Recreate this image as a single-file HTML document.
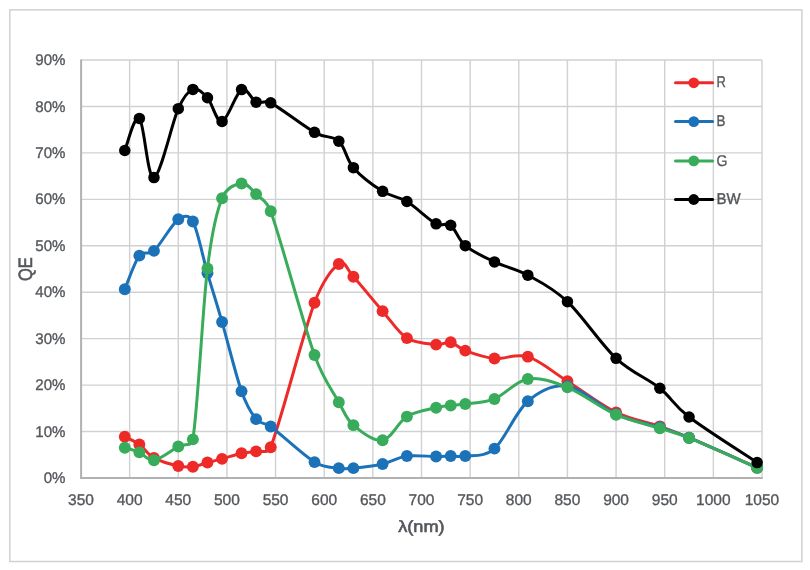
<!DOCTYPE html>
<html><head><meta charset="utf-8"><style>
html,body{margin:0;padding:0;background:#fff;}
body{width:810px;height:570px;overflow:hidden;}
svg{display:block;}
.t,.tl,.ti,.tq{font-family:"Liberation Sans",sans-serif;fill:#54575B;text-rendering:geometricPrecision;stroke:#54575B;stroke-width:0.35px;}
.t{font-size:15.50px;}
.tl{font-size:15.55px;}
.ti{font-size:16.30px;}
.tq{font-size:19.25px;}
.ti,.tq{stroke-width:0.6px;}
</style></head><body>
<div style="will-change:transform;width:810px;height:570px"><svg width="810" height="570" viewBox="0 0 810 570">
<rect x="0" y="0" width="810" height="570" fill="#fff"/>
<rect x="9.8" y="9.9" width="792.1" height="551.6" fill="none" stroke="#D0D1D3" stroke-width="1.5"/>
<line x1="81" y1="431.56" x2="762" y2="431.56" stroke="#D0D1D3" stroke-width="1.4"/>
<line x1="81" y1="385.11" x2="762" y2="385.11" stroke="#D0D1D3" stroke-width="1.4"/>
<line x1="81" y1="338.67" x2="762" y2="338.67" stroke="#D0D1D3" stroke-width="1.4"/>
<line x1="81" y1="292.22" x2="762" y2="292.22" stroke="#D0D1D3" stroke-width="1.4"/>
<line x1="81" y1="245.78" x2="762" y2="245.78" stroke="#D0D1D3" stroke-width="1.4"/>
<line x1="81" y1="199.33" x2="762" y2="199.33" stroke="#D0D1D3" stroke-width="1.4"/>
<line x1="81" y1="152.89" x2="762" y2="152.89" stroke="#D0D1D3" stroke-width="1.4"/>
<line x1="81" y1="106.44" x2="762" y2="106.44" stroke="#D0D1D3" stroke-width="1.4"/>
<line x1="81" y1="60.00" x2="762" y2="60.00" stroke="#D0D1D3" stroke-width="1.4"/>
<line x1="129.64" y1="60" x2="129.64" y2="478" stroke="#D0D1D3" stroke-width="1.4"/>
<line x1="178.29" y1="60" x2="178.29" y2="478" stroke="#D0D1D3" stroke-width="1.4"/>
<line x1="226.93" y1="60" x2="226.93" y2="478" stroke="#D0D1D3" stroke-width="1.4"/>
<line x1="275.57" y1="60" x2="275.57" y2="478" stroke="#D0D1D3" stroke-width="1.4"/>
<line x1="324.21" y1="60" x2="324.21" y2="478" stroke="#D0D1D3" stroke-width="1.4"/>
<line x1="372.86" y1="60" x2="372.86" y2="478" stroke="#D0D1D3" stroke-width="1.4"/>
<line x1="421.50" y1="60" x2="421.50" y2="478" stroke="#D0D1D3" stroke-width="1.4"/>
<line x1="470.14" y1="60" x2="470.14" y2="478" stroke="#D0D1D3" stroke-width="1.4"/>
<line x1="518.79" y1="60" x2="518.79" y2="478" stroke="#D0D1D3" stroke-width="1.4"/>
<line x1="567.43" y1="60" x2="567.43" y2="478" stroke="#D0D1D3" stroke-width="1.4"/>
<line x1="616.07" y1="60" x2="616.07" y2="478" stroke="#D0D1D3" stroke-width="1.4"/>
<line x1="664.71" y1="60" x2="664.71" y2="478" stroke="#D0D1D3" stroke-width="1.4"/>
<line x1="713.36" y1="60" x2="713.36" y2="478" stroke="#D0D1D3" stroke-width="1.4"/>
<line x1="762.00" y1="60" x2="762.00" y2="478" stroke="#D0D1D3" stroke-width="1.4"/>
<line x1="81.1" y1="59.4" x2="81.1" y2="479" stroke="#B0B1B3" stroke-width="2"/>
<line x1="80.1" y1="478" x2="762.7" y2="478" stroke="#B0B1B3" stroke-width="2"/>
<text x="65.45" y="483.15" text-anchor="end" class="t" textLength="21.77" lengthAdjust="spacingAndGlyphs">0%</text>
<text x="65.45" y="436.71" text-anchor="end" class="t" textLength="30.15" lengthAdjust="spacingAndGlyphs">10%</text>
<text x="65.45" y="390.26" text-anchor="end" class="t" textLength="30.15" lengthAdjust="spacingAndGlyphs">20%</text>
<text x="65.45" y="343.82" text-anchor="end" class="t" textLength="30.15" lengthAdjust="spacingAndGlyphs">30%</text>
<text x="65.45" y="297.37" text-anchor="end" class="t" textLength="30.15" lengthAdjust="spacingAndGlyphs">40%</text>
<text x="65.45" y="250.93" text-anchor="end" class="t" textLength="30.15" lengthAdjust="spacingAndGlyphs">50%</text>
<text x="65.45" y="204.48" text-anchor="end" class="t" textLength="30.15" lengthAdjust="spacingAndGlyphs">60%</text>
<text x="65.45" y="158.04" text-anchor="end" class="t" textLength="30.15" lengthAdjust="spacingAndGlyphs">70%</text>
<text x="65.45" y="111.59" text-anchor="end" class="t" textLength="30.15" lengthAdjust="spacingAndGlyphs">80%</text>
<text x="65.45" y="65.15" text-anchor="end" class="t" textLength="30.15" lengthAdjust="spacingAndGlyphs">90%</text>
<text x="81.00" y="504.50" text-anchor="middle" class="t">350</text>
<text x="129.64" y="504.50" text-anchor="middle" class="t">400</text>
<text x="178.29" y="504.50" text-anchor="middle" class="t">450</text>
<text x="226.93" y="504.50" text-anchor="middle" class="t">500</text>
<text x="275.57" y="504.50" text-anchor="middle" class="t">550</text>
<text x="324.21" y="504.50" text-anchor="middle" class="t">600</text>
<text x="372.86" y="504.50" text-anchor="middle" class="t">650</text>
<text x="421.50" y="504.50" text-anchor="middle" class="t">700</text>
<text x="470.14" y="504.50" text-anchor="middle" class="t">750</text>
<text x="518.79" y="504.50" text-anchor="middle" class="t">800</text>
<text x="567.43" y="504.50" text-anchor="middle" class="t">850</text>
<text x="616.07" y="504.50" text-anchor="middle" class="t">900</text>
<text x="664.71" y="504.50" text-anchor="middle" class="t">950</text>
<text x="713.36" y="504.50" text-anchor="middle" class="t">1000</text>
<text x="762.00" y="504.50" text-anchor="middle" class="t">1050</text>
<text x="421.40" y="532.20" text-anchor="middle" class="ti" textLength="46.40" lengthAdjust="spacingAndGlyphs">&#955;(nm)</text>
<text transform="translate(32.10,269.10) rotate(-90)" text-anchor="middle" class="tq" textLength="23.80" lengthAdjust="spacingAndGlyphs">QE</text>
<path d="M124.78,436.78 C127.21,438.06 134.51,440.92 139.37,444.45 C144.24,447.97 147.48,454.32 153.96,457.91 C160.45,461.51 171.80,464.57 178.29,466.04 C184.77,467.51 188.01,467.32 192.88,466.74 C197.74,466.16 202.61,463.87 207.47,462.56 C212.34,461.24 216.39,460.39 222.06,458.84 C227.74,457.30 235.85,454.51 241.52,453.27 C247.20,452.03 251.25,452.42 256.11,451.41 C260.98,450.41 267.93,454.30 270.71,447.23 C280.44,422.46 303.14,333.33 314.49,302.79 C322.46,281.34 332.32,268.34 338.81,264.01 C345.29,259.67 346.80,269.68 353.40,276.78 C360.70,284.64 373.67,300.93 382.59,311.15 C391.50,321.37 397.99,332.51 406.91,338.09 C415.82,343.66 428.80,343.89 436.09,344.59 C443.39,345.29 445.82,341.26 450.69,342.27 C455.55,343.27 457.98,347.92 465.28,350.63 C472.57,353.34 484.04,357.52 494.46,358.52 C504.89,359.53 515.67,352.87 527.83,356.67 C539.99,360.46 552.72,371.99 567.43,381.28 C582.13,390.57 600.67,404.89 616.07,412.40 C631.48,419.91 647.69,422.11 659.85,426.33 C672.01,430.55 674.62,431.59 689.04,437.71 C705.25,444.60 745.79,462.68 757.14,467.67" fill="none" stroke="#EE2A29" stroke-width="3.0" stroke-linejoin="round" stroke-linecap="round"/>
<circle cx="124.78" cy="436.78" r="5.95" fill="#EE2A29"/>
<circle cx="139.37" cy="444.45" r="5.95" fill="#EE2A29"/>
<circle cx="153.96" cy="457.91" r="5.95" fill="#EE2A29"/>
<circle cx="178.29" cy="466.04" r="5.95" fill="#EE2A29"/>
<circle cx="192.88" cy="466.74" r="5.95" fill="#EE2A29"/>
<circle cx="207.47" cy="462.56" r="5.95" fill="#EE2A29"/>
<circle cx="222.06" cy="458.84" r="5.95" fill="#EE2A29"/>
<circle cx="241.52" cy="453.27" r="5.95" fill="#EE2A29"/>
<circle cx="256.11" cy="451.41" r="5.95" fill="#EE2A29"/>
<circle cx="270.71" cy="447.23" r="5.95" fill="#EE2A29"/>
<circle cx="314.49" cy="302.79" r="5.95" fill="#EE2A29"/>
<circle cx="338.81" cy="264.01" r="5.95" fill="#EE2A29"/>
<circle cx="353.40" cy="276.78" r="5.95" fill="#EE2A29"/>
<circle cx="382.59" cy="311.15" r="5.95" fill="#EE2A29"/>
<circle cx="406.91" cy="338.09" r="5.95" fill="#EE2A29"/>
<circle cx="436.09" cy="344.59" r="5.95" fill="#EE2A29"/>
<circle cx="450.69" cy="342.27" r="5.95" fill="#EE2A29"/>
<circle cx="465.28" cy="350.63" r="5.95" fill="#EE2A29"/>
<circle cx="494.46" cy="358.52" r="5.95" fill="#EE2A29"/>
<circle cx="527.83" cy="356.67" r="5.95" fill="#EE2A29"/>
<circle cx="567.43" cy="381.28" r="5.95" fill="#EE2A29"/>
<circle cx="616.07" cy="412.40" r="5.95" fill="#EE2A29"/>
<circle cx="659.85" cy="426.33" r="5.95" fill="#EE2A29"/>
<circle cx="689.04" cy="437.71" r="5.95" fill="#EE2A29"/>
<circle cx="757.14" cy="467.67" r="5.95" fill="#EE2A29"/>
<path d="M124.78,289.32 C127.21,283.71 134.51,262.05 139.37,255.65 C144.01,249.54 148.37,256.16 153.96,250.91 C160.45,244.84 171.80,224.09 178.29,219.19 C184.18,214.74 189.36,215.02 192.88,221.51 C197.74,230.49 202.61,256.31 207.47,273.07 C212.34,289.82 216.39,302.36 222.06,322.06 C227.74,341.76 235.85,375.09 241.52,391.27 C246.73,406.11 251.25,413.25 256.11,419.13 C260.98,425.02 264.11,421.71 270.71,426.56 C280.44,433.72 303.14,455.17 314.49,462.09 C325.18,468.62 332.32,467.13 338.81,468.13 C345.29,469.14 346.14,468.83 353.40,468.13 C360.70,467.44 373.67,465.96 382.59,463.95 C391.50,461.94 397.99,457.30 406.91,456.06 C415.82,454.82 428.80,456.52 436.09,456.52 C443.39,456.52 445.82,456.13 450.69,456.06 C455.55,455.98 458.09,457.28 465.28,456.06 C472.57,454.82 484.04,457.76 494.46,448.63 C504.89,439.49 515.67,411.66 527.83,401.25 C539.99,390.84 552.72,383.99 567.43,386.16 C582.13,388.33 600.67,407.41 616.07,414.26 C631.48,421.11 647.69,423.35 659.85,427.26 C672.01,431.17 674.72,431.77 689.04,437.71 C705.25,444.45 745.79,462.68 757.14,467.67" fill="none" stroke="#1B72B8" stroke-width="3.0" stroke-linejoin="round" stroke-linecap="round"/>
<circle cx="124.78" cy="289.32" r="5.95" fill="#1B72B8"/>
<circle cx="139.37" cy="255.65" r="5.95" fill="#1B72B8"/>
<circle cx="153.96" cy="250.91" r="5.95" fill="#1B72B8"/>
<circle cx="178.29" cy="219.19" r="5.95" fill="#1B72B8"/>
<circle cx="192.88" cy="221.51" r="5.95" fill="#1B72B8"/>
<circle cx="207.47" cy="273.07" r="5.95" fill="#1B72B8"/>
<circle cx="222.06" cy="322.06" r="5.95" fill="#1B72B8"/>
<circle cx="241.52" cy="391.27" r="5.95" fill="#1B72B8"/>
<circle cx="256.11" cy="419.13" r="5.95" fill="#1B72B8"/>
<circle cx="270.71" cy="426.56" r="5.95" fill="#1B72B8"/>
<circle cx="314.49" cy="462.09" r="5.95" fill="#1B72B8"/>
<circle cx="338.81" cy="468.13" r="5.95" fill="#1B72B8"/>
<circle cx="353.40" cy="468.13" r="5.95" fill="#1B72B8"/>
<circle cx="382.59" cy="463.95" r="5.95" fill="#1B72B8"/>
<circle cx="406.91" cy="456.06" r="5.95" fill="#1B72B8"/>
<circle cx="436.09" cy="456.52" r="5.95" fill="#1B72B8"/>
<circle cx="450.69" cy="456.06" r="5.95" fill="#1B72B8"/>
<circle cx="465.28" cy="456.06" r="5.95" fill="#1B72B8"/>
<circle cx="494.46" cy="448.63" r="5.95" fill="#1B72B8"/>
<circle cx="527.83" cy="401.25" r="5.95" fill="#1B72B8"/>
<circle cx="567.43" cy="386.16" r="5.95" fill="#1B72B8"/>
<circle cx="616.07" cy="414.26" r="5.95" fill="#1B72B8"/>
<circle cx="659.85" cy="427.26" r="5.95" fill="#1B72B8"/>
<circle cx="689.04" cy="437.71" r="5.95" fill="#1B72B8"/>
<circle cx="757.14" cy="467.67" r="5.95" fill="#1B72B8"/>
<path d="M124.78,447.70 C127.21,448.47 134.51,450.25 139.37,452.34 C144.24,454.43 147.48,461.20 153.96,460.24 C160.45,459.27 171.80,450.02 178.29,446.54 C184.77,443.05 191.56,447.37 192.88,439.34 C197.74,409.65 202.61,308.60 207.47,268.42 C211.78,232.86 216.39,212.46 222.06,198.29 C226.62,186.93 235.85,184.12 241.52,183.43 C247.20,182.73 251.25,189.47 256.11,194.11 C260.98,198.75 266.86,200.70 270.71,211.29 C280.44,238.12 303.14,323.23 314.49,355.04 C323.40,380.02 332.32,390.49 338.81,402.18 C345.29,413.87 346.10,418.82 353.40,425.17 C360.70,431.52 373.67,441.70 382.59,440.27 C391.50,438.83 397.99,422.00 406.91,416.58 C415.82,411.16 428.80,409.61 436.09,407.75 C443.25,405.93 445.82,406.05 450.69,405.43 C455.55,404.81 458.03,405.12 465.28,404.04 C472.57,402.96 484.04,403.11 494.46,398.93 C504.89,394.75 515.67,380.89 527.83,378.96 C539.99,377.02 552.72,381.36 567.43,387.32 C582.13,393.28 600.67,407.91 616.07,414.72 C631.48,421.53 647.69,424.32 659.85,428.19 C672.01,432.06 674.78,432.16 689.04,437.94 C705.25,444.52 745.79,462.71 757.14,467.67" fill="none" stroke="#38AC5A" stroke-width="3.0" stroke-linejoin="round" stroke-linecap="round"/>
<circle cx="124.78" cy="447.70" r="5.95" fill="#38AC5A"/>
<circle cx="139.37" cy="452.34" r="5.95" fill="#38AC5A"/>
<circle cx="153.96" cy="460.24" r="5.95" fill="#38AC5A"/>
<circle cx="178.29" cy="446.54" r="5.95" fill="#38AC5A"/>
<circle cx="192.88" cy="439.34" r="5.95" fill="#38AC5A"/>
<circle cx="207.47" cy="268.42" r="5.95" fill="#38AC5A"/>
<circle cx="222.06" cy="198.29" r="5.95" fill="#38AC5A"/>
<circle cx="241.52" cy="183.43" r="5.95" fill="#38AC5A"/>
<circle cx="256.11" cy="194.11" r="5.95" fill="#38AC5A"/>
<circle cx="270.71" cy="211.29" r="5.95" fill="#38AC5A"/>
<circle cx="314.49" cy="355.04" r="5.95" fill="#38AC5A"/>
<circle cx="338.81" cy="402.18" r="5.95" fill="#38AC5A"/>
<circle cx="353.40" cy="425.17" r="5.95" fill="#38AC5A"/>
<circle cx="382.59" cy="440.27" r="5.95" fill="#38AC5A"/>
<circle cx="406.91" cy="416.58" r="5.95" fill="#38AC5A"/>
<circle cx="436.09" cy="407.75" r="5.95" fill="#38AC5A"/>
<circle cx="450.69" cy="405.43" r="5.95" fill="#38AC5A"/>
<circle cx="465.28" cy="404.04" r="5.95" fill="#38AC5A"/>
<circle cx="494.46" cy="398.93" r="5.95" fill="#38AC5A"/>
<circle cx="527.83" cy="378.96" r="5.95" fill="#38AC5A"/>
<circle cx="567.43" cy="387.32" r="5.95" fill="#38AC5A"/>
<circle cx="616.07" cy="414.72" r="5.95" fill="#38AC5A"/>
<circle cx="659.85" cy="428.19" r="5.95" fill="#38AC5A"/>
<circle cx="689.04" cy="437.94" r="5.95" fill="#38AC5A"/>
<circle cx="757.14" cy="467.67" r="5.95" fill="#38AC5A"/>
<path d="M124.78,150.45 C127.21,145.11 134.51,113.88 139.37,118.41 C144.24,122.93 147.48,179.25 153.96,177.62 C160.45,176.00 171.80,123.36 178.29,108.65 C183.16,97.59 188.01,91.20 192.88,89.38 C197.74,87.56 202.61,92.40 207.47,97.74 C212.34,103.08 216.39,122.78 222.06,121.42 C227.74,120.07 235.85,92.82 241.52,89.61 C247.20,86.40 251.25,99.94 256.11,102.15 C260.98,104.36 264.22,99.49 270.71,102.85 C280.44,107.88 303.14,125.95 314.49,132.34 C325.76,138.68 332.32,135.28 338.81,141.16 C345.29,147.05 346.10,159.28 353.40,167.64 C360.70,176.00 373.67,185.67 382.59,191.32 C391.50,196.97 397.99,196.12 406.91,201.54 C415.82,206.96 428.80,219.89 436.09,223.83 C442.54,227.32 445.82,221.59 450.69,225.23 C455.55,228.87 457.98,239.55 465.28,245.66 C472.57,251.78 484.04,257.00 494.46,261.92 C504.89,266.83 515.67,268.54 527.83,275.16 C539.99,281.77 552.72,287.77 567.43,301.63 C582.13,315.49 600.67,343.90 616.07,358.34 C631.48,372.77 647.69,378.46 659.85,388.25 C672.01,398.03 672.82,404.66 689.04,417.04 C705.25,429.43 745.79,454.97 757.14,462.56" fill="none" stroke="#000000" stroke-width="3.0" stroke-linejoin="round" stroke-linecap="round"/>
<circle cx="124.78" cy="150.45" r="5.75" fill="#000000"/>
<circle cx="139.37" cy="118.41" r="5.75" fill="#000000"/>
<circle cx="153.96" cy="177.62" r="5.75" fill="#000000"/>
<circle cx="178.29" cy="108.65" r="5.75" fill="#000000"/>
<circle cx="192.88" cy="89.38" r="5.75" fill="#000000"/>
<circle cx="207.47" cy="97.74" r="5.75" fill="#000000"/>
<circle cx="222.06" cy="121.42" r="5.75" fill="#000000"/>
<circle cx="241.52" cy="89.61" r="5.75" fill="#000000"/>
<circle cx="256.11" cy="102.15" r="5.75" fill="#000000"/>
<circle cx="270.71" cy="102.85" r="5.75" fill="#000000"/>
<circle cx="314.49" cy="132.34" r="5.75" fill="#000000"/>
<circle cx="338.81" cy="141.16" r="5.75" fill="#000000"/>
<circle cx="353.40" cy="167.64" r="5.75" fill="#000000"/>
<circle cx="382.59" cy="191.32" r="5.75" fill="#000000"/>
<circle cx="406.91" cy="201.54" r="5.75" fill="#000000"/>
<circle cx="436.09" cy="223.83" r="5.75" fill="#000000"/>
<circle cx="450.69" cy="225.23" r="5.75" fill="#000000"/>
<circle cx="465.28" cy="245.66" r="5.75" fill="#000000"/>
<circle cx="494.46" cy="261.92" r="5.75" fill="#000000"/>
<circle cx="527.83" cy="275.16" r="5.75" fill="#000000"/>
<circle cx="567.43" cy="301.63" r="5.75" fill="#000000"/>
<circle cx="616.07" cy="358.34" r="5.75" fill="#000000"/>
<circle cx="659.85" cy="388.25" r="5.75" fill="#000000"/>
<circle cx="689.04" cy="417.04" r="5.75" fill="#000000"/>
<circle cx="757.14" cy="462.56" r="5.75" fill="#000000"/>
<line x1="675.5" y1="82.80" x2="712.6" y2="82.80" stroke="#EE2A29" stroke-width="3" stroke-linecap="round"/>
<circle cx="693.75" cy="82.80" r="5.40" fill="#EE2A29"/>
<text x="716.60" y="87.40" class="tl" textLength="9.31" lengthAdjust="spacingAndGlyphs">R</text>
<line x1="675.5" y1="121.60" x2="712.6" y2="121.60" stroke="#1B72B8" stroke-width="3" stroke-linecap="round"/>
<circle cx="693.75" cy="121.60" r="5.40" fill="#1B72B8"/>
<text x="716.60" y="126.20" class="tl" textLength="8.95" lengthAdjust="spacingAndGlyphs">B</text>
<line x1="675.5" y1="160.90" x2="712.6" y2="160.90" stroke="#38AC5A" stroke-width="3" stroke-linecap="round"/>
<circle cx="693.75" cy="160.90" r="5.40" fill="#38AC5A"/>
<text x="716.60" y="165.50" class="tl" textLength="10.90" lengthAdjust="spacingAndGlyphs">G</text>
<line x1="675.5" y1="199.50" x2="712.6" y2="199.50" stroke="#000000" stroke-width="3" stroke-linecap="round"/>
<circle cx="693.75" cy="199.50" r="5.40" fill="#000000"/>
<text x="716.60" y="204.10" class="tl" textLength="24.20" lengthAdjust="spacingAndGlyphs">BW</text>
</svg></div>
</body></html>
